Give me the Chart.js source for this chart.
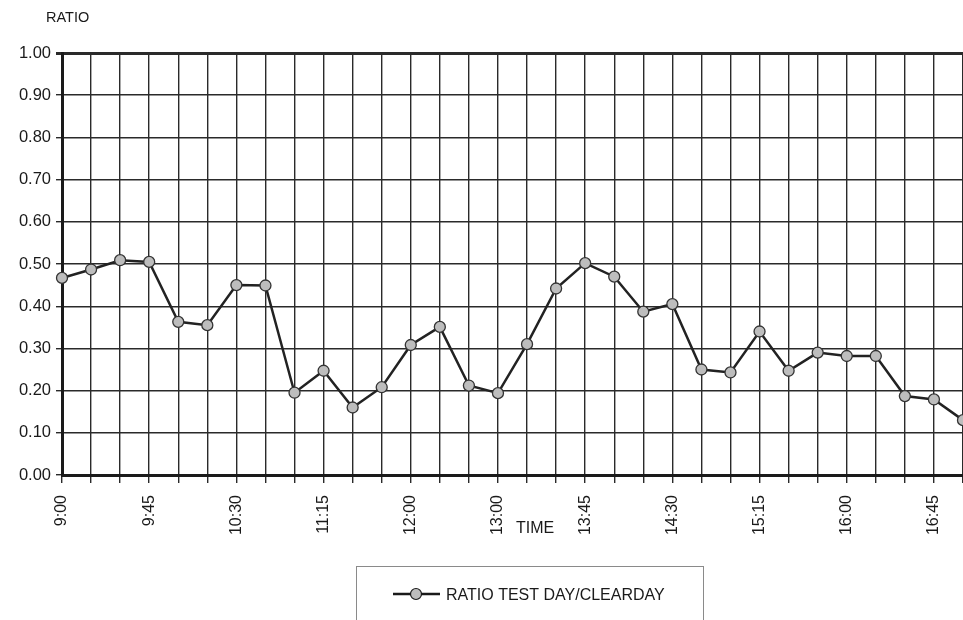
<!DOCTYPE html>
<html>
<head>
<meta charset="utf-8">
<script src="https://cdn.jsdelivr.net/npm/chart.js@4.4.1/dist/chart.umd.min.js"></script>
<style>
  html, body { margin: 0; padding: 0; background: #fff; }
  #wrap { position: relative; width: 963px; height: 620px; overflow: hidden; }
</style>
</head>
<body>
<div id="wrap"><canvas id="ratioChart" width="963" height="620"></canvas></div>
<script>
// time of day (12:45 is missing in the record)
const times = [
  "9:00", "9:15", "9:30", "9:45", "10:00", "10:15", "10:30", "10:45",
  "11:00", "11:15", "11:30", "11:45", "12:00", "12:15", "12:30", "13:00",
  "13:15", "13:30", "13:45", "14:00", "14:15", "14:30", "14:45", "15:00",
  "15:15", "15:30", "15:45", "16:00", "16:15", "16:30", "16:45", "17:00"
];

const ratio = [
  0.467, 0.487, 0.509, 0.505, 0.363, 0.355, 0.450, 0.449,
  0.195, 0.247, 0.160, 0.208, 0.308, 0.351, 0.212, 0.194,
  0.310, 0.442, 0.502, 0.470, 0.387, 0.405, 0.250, 0.243,
  0.340, 0.247, 0.290, 0.282, 0.282, 0.187, 0.179, 0.130
];

// only every third time is written under the axis
const shownTimes = ["9:00", "9:45", "10:30", "11:15", "12:00", "13:00", "13:45", "14:30", "15:15", "16:00", "16:45"];

const seriesLabel = "RATIO TEST DAY/CLEARDAY";
const yTitle = "RATIO";
const xTitle = "TIME";

const FONT = "'Liberation Sans', Arial, sans-serif";
const INK = "#1a1a1a";

const extraText = {
  id: "extraText",
  afterDraw(chart) {
    const ctx = chart.ctx;
    ctx.save();
    ctx.fillStyle = INK;
    ctx.textBaseline = "middle";
    ctx.textAlign = "left";
    ctx.font = "14.5px " + FONT;
    ctx.fillText(yTitle, 46, 18);

    ctx.font = "16px " + FONT;
    ctx.fillText(xTitle, 516, 529);

    // legend box
    ctx.strokeStyle = "#8a8a8a";
    ctx.lineWidth = 1;
    ctx.strokeRect(356.5, 566.5, 347, 70);

    const ly = 594;
    ctx.strokeStyle = INK;
    ctx.lineWidth = 2.5;
    ctx.beginPath();
    ctx.moveTo(393, ly);
    ctx.lineTo(440, ly);
    ctx.stroke();
    ctx.beginPath();
    ctx.arc(416, ly, 5.5, 0, Math.PI * 2);
    ctx.fillStyle = "#bdbdbd";
    ctx.fill();
    ctx.lineWidth = 1.2;
    ctx.stroke();

    ctx.fillStyle = INK;
    ctx.font = "16px " + FONT;
    ctx.fillText(chart.data.datasets[0].label, 446, ly + 2);
    ctx.restore();
  }
};

new Chart(document.getElementById("ratioChart"), {
  type: "line",
  data: {
    labels: times,
    datasets: [{
      label: seriesLabel,
      data: ratio,
      borderColor: "#222",
      borderWidth: 2.5,
      pointRadius: 5.5,
      pointBackgroundColor: "#bdbdbd",
      pointBorderColor: "#333",
      pointBorderWidth: 1.3,
      tension: 0,
      fill: false,
      clip: false
    }]
  },
  options: {
    responsive: false,
    animation: false,
    layout: { autoPadding: false, padding: { top: 53, right: 0, left: 0, bottom: 0 } },
    plugins: {
      legend: { display: false },
      tooltip: { enabled: false }
    },
    scales: {
      x: {
        offset: false,
        afterFit(scale) {
          scale.height = 145;
          scale.paddingLeft = 0;
          scale.paddingRight = 0;
        },
        grid: {
          color: "#2a2a2a",
          lineWidth: 1.4,
          tickLength: 8,
          drawTicks: true
        },
        border: { color: INK, width: 3 },
        ticks: {
          autoSkip: false,
          minRotation: 90,
          maxRotation: 90,
          padding: 12,
          color: INK,
          font: { family: FONT, size: 16 },
          callback(value, index) {
            const t = times[index];
            return shownTimes.includes(t) ? t : "";
          }
        }
      },
      y: {
        min: 0,
        max: 1,
        afterFit(scale) {
          scale.width = 62;
          scale.paddingTop = 0;
          scale.paddingBottom = 0;
        },
        grid: {
          color: "#2a2a2a",
          lineWidth: ctx => (ctx.tick && ctx.tick.value === 1 ? 3 : 1.4),
          tickLength: 6
        },
        border: { color: INK, width: 3 },
        ticks: {
          stepSize: 0.1,
          padding: 5,
          color: INK,
          font: { family: FONT, size: 16.5 },
          callback: v => v.toFixed(2)
        }
      }
    }
  },
  plugins: [extraText]
});
</script>
</body>
</html>
